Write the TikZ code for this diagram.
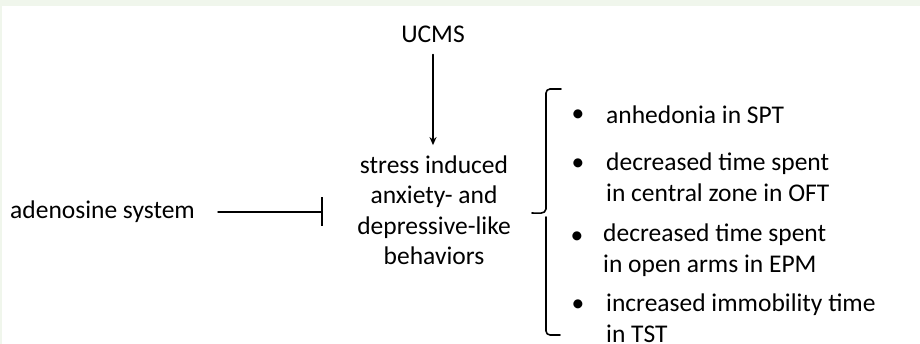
\documentclass[tikz,border=0pt]{standalone}
\usepackage{fontspec}
\setmainfont{Carlito}
\usetikzlibrary{arrows.meta}
\definecolor{bandgreen}{RGB}{240,246,236}
\tikzset{
  txt/.style={inner sep=0pt, font=\fontsize{25.5}{30.5}\selectfont},
  item/.style={txt, anchor=west, align=left},
  dot/.style={txt, anchor=center},
  stem/.style={line width=1.6pt},
}
\begin{document}
\begin{tikzpicture}[x=1pt, y=-1pt, line join=round, line cap=round, >={Stealth[length=8pt,width=7pt]}]
	\useasboundingbox (0,0) rectangle (920,344);
	\fill[bandgreen] (0,0) rectangle (920,6);
	\fill[bandgreen] (0,0) rectangle (2,344);
	% left, top and middle
	\node[txt, anchor=west] (adeno) at (10,212) {adenosine system};
	\node[txt] (ucms) at (433,34) {UCMS};
	\node[txt, align=center] (stress) at (434,210) {stress induced\\anxiety- and\\depressive-like\\behaviors};
	\draw[stem, ->, shorten <=12pt, shorten >=10pt] (ucms) -- (ucms|-stress.north);
	\draw[stem, -{Bar[width=29pt]}, shorten <=23pt, shorten >=34pt] (adeno.east) -- (adeno.east-|stress.west);
	% brace
	\draw[stem] (561,89) -- (550,89) to[out=180,in=90] (546,93) -- (546,209)
	  to[out=-95,in=0] (532,213) (546,217) -- (546,331) to[out=-90,in=180] (550,335) -- (560,335);
	% list
	\node[dot] (b1) at (578,116) {\textbullet};
	\node[dot] (b2) at (578,165) {\textbullet};
	\node[dot] (b3) at (577,238) {\textbullet};
	\node[dot] (b4) at (578,306) {\textbullet};
	\node[item] (i1) at (606,115) {anhedonia in SPT};
	\node[item] (i2) at (606,177) {decreased time spent\\in central zone in OFT};
	\node[item] (i3) at (603,250) {decreased time spent\\in open arms in EPM};
	\node[item] (i4) at (606,318) {increased immobility time\\in TST};
\end{tikzpicture}
\end{document}
